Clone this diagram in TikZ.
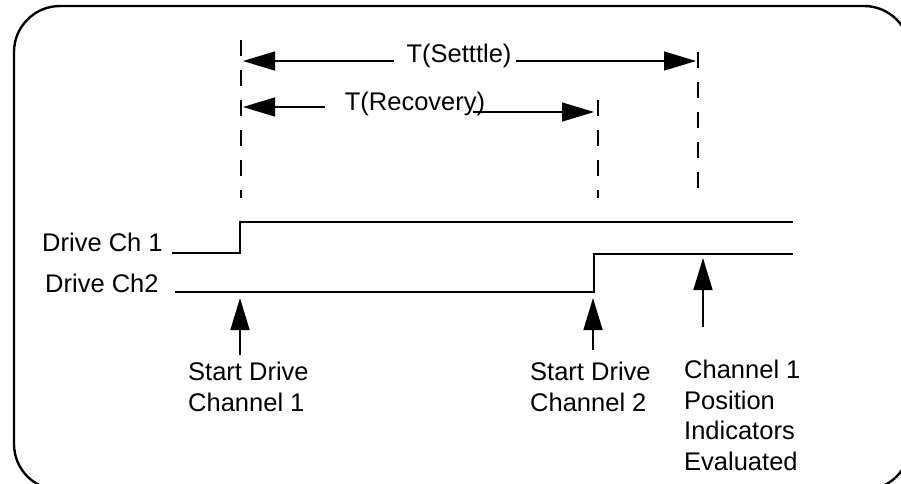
\documentclass[tikz,border=0pt]{standalone}
\usepackage{fontspec}
\setmainfont{Liberation Sans}
\usetikzlibrary{arrows.meta,positioning,calc}

\begin{document}
\begin{tikzpicture}[x=1pt,y=-1pt,
  lbl/.style={font=\fontsize{25.5}{30.5}\selectfont,inner sep=0pt,align=left},
  tlbl/.style={font=\fontsize{25.5}{30.5}\selectfont,inner ysep=0pt},
  sig/.style={line width=1.6pt},
  guide/.style={dash pattern=on 16pt off 14pt,line width=1.4pt},
  arr/.style={-{Triangle[length=32pt,width=19pt]},line width=1.4pt}
]
  \useasboundingbox (0,0) rectangle (901,483);
  \draw[line width=2.4pt,rounded corners=46pt] (14,6) rectangle (910,490);

  % dashed guide lines
  \coordinate (g1t) at (241,40);  \coordinate (g1b) at (241,198);
  \coordinate (g2t) at (598,100); \coordinate (g2b) at (598,198);
  \coordinate (g3t) at (698,52);  \coordinate (g3b) at (698,198);
  \draw[guide] (g1t) -- (g1b);
  \draw[guide] (g2t) -- (g2b);
  \draw[guide] (g3t) -- (g3b);

  % timing intervals
  \node[tlbl,inner xsep=12pt] (settle) at (459,56) {T(Setttle)};
  \coordinate (s1) at (243,61);
  \coordinate (s2) at (696,61);
  \draw[arr] (settle.west |- s1) -- (s1);
  \draw[arr] ([xshift=-8pt]settle.east |- s2) -- (s2);

  \node[tlbl,inner xsep=20pt] (recov) at (415,104) {T(Recovery)};
  \coordinate (r1) at (243,107);
  \coordinate (r2) at (594,112);
  \draw[arr] (recov.west |- r1) -- (r1);
  \draw[arr] ([xshift=-32pt]recov.east |- r2) -- (r2);

  % drive signals
  \node[lbl,anchor=base west] (ch1) at (42,251) {Drive Ch 1};
  \node[lbl,anchor=base west] (ch2) at (45,292) {Drive Ch2};
  \coordinate (c1a) at (172,253); \coordinate (c1r) at (240,222); \coordinate (c1e) at (793,222);
  \coordinate (c2a) at (175,292); \coordinate (c2r) at (594,254); \coordinate (c2e) at (793,254);
  \draw[sig] (c1a) -| (c1r) -- (c1e);
  \draw[sig] (c2a) -| (c2r) -- (c2e);

  % events
  \node[lbl,anchor=base west] (start1) at (188,411) {Start Drive\\Channel 1};
  \node[lbl,anchor=base west] (start2) at (530,411) {Start Drive\\Channel 2};
  \node[lbl,anchor=base west] (eval) at (684,470) {Channel 1\\Position\\Indicators\\Evaluated};
  \coordinate (e1) at (240,298);
  \coordinate (e2) at (593,298);
  \coordinate (e3) at (703,258);
  \draw[arr] (240,355) -- (e1);
  \draw[arr] (593,350) -- (e2);
  \draw[arr] (703,327) -- (e3);
\end{tikzpicture}
\end{document}
